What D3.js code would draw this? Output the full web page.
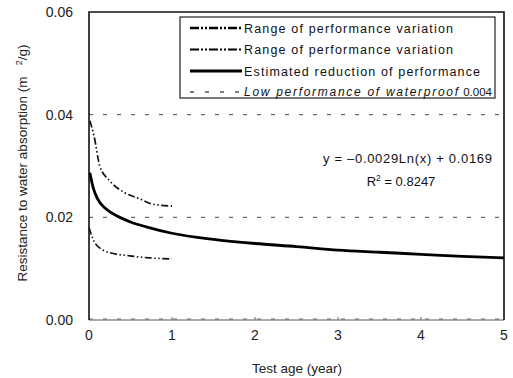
<!DOCTYPE html>
<html>
<head>
<meta charset="utf-8">
<script src="https://cdn.jsdelivr.net/npm/d3@7"></script>
<style>
  html, body { margin: 0; padding: 0; background: #fff; }
  svg { display: block; font-family: "Liberation Sans", Arial, sans-serif; }
</style>
</head>
<body>
<svg id="chart" width="513" height="378"></svg>
<script>
// ---- data ----
const xTicks = [0, 1, 2, 3, 4, 5];
const yTicks = [0.00, 0.02, 0.04, 0.06];
const yTickLabels = ["0.00", "0.02", "0.04", "0.06"];

const upperX = [0.01, 0.06, 0.13, 0.25, 0.43, 0.61, 0.76, 1.0];
const upperY = [0.0388, 0.0359, 0.0300, 0.0271, 0.0248, 0.0236, 0.0226, 0.0222];

const lowerX = [0.0, 0.08, 0.25, 0.49, 0.73, 1.0];
const lowerY = [0.0180, 0.0148, 0.0131, 0.0125, 0.0121, 0.0119];

const estX = [0.01, 0.05, 0.1, 0.2, 0.3, 0.5, 0.7, 1.0, 1.5, 2.0, 2.5, 3.0, 3.5, 4.0, 4.5, 5.0];
const estY = [0.0287, 0.0258, 0.0237, 0.0217, 0.0206, 0.0191, 0.0181, 0.0169, 0.0157, 0.0149, 0.0143, 0.0136, 0.0132, 0.0128, 0.0124, 0.0121];

const gridValues = [0.02, 0.04];
const legendLabels = [
  "Range of performance variation",
  "Range of performance variation",
  "Estimated reduction of performance",
  "Low performance of waterproof"
];
const lowLimitLabel = "0.004";
const equationText = "y = \u20130.0029Ln(x) + 0.0169";
const r2Value = "0.8247";

// ---- drawing ----
const svg = d3.select("#chart");
const x = d3.scaleLinear().domain([0, 5]).range([89, 504]);
const y = d3.scaleLinear().domain([0, 0.06]).range([320, 12]);

// gridlines (dashed)
svg.append("g").selectAll("line").data(gridValues).join("line")
  .attr("x1", x(0)).attr("x2", x(5))
  .attr("y1", d => y(d)).attr("y2", d => y(d))
  .attr("stroke", "#444").attr("stroke-width", 1)
  .attr("stroke-dasharray", "4,10");

// bottom axis line
svg.append("line")
  .attr("x1", x(0)).attr("x2", x(5)).attr("y1", y(0)).attr("y2", y(0))
  .attr("stroke", "#555").attr("stroke-width", 1.2);
svg.append("line")
  .attr("x1", x(0)).attr("x2", x(5)).attr("y1", y(0) - 1).attr("y2", y(0) - 1)
  .attr("stroke", "#666").attr("stroke-width", 1).attr("stroke-dasharray", "4,10");

// small tick marks on bottom
svg.append("g").selectAll("line").data(xTicks.slice(1, 5)).join("line")
  .attr("x1", d => x(d)).attr("x2", d => x(d))
  .attr("y1", y(0)).attr("y2", y(0) - 3)
  .attr("stroke", "#666").attr("stroke-width", 1);

// frame: left, top, right
svg.append("path")
  .attr("d", `M${x(0)},${y(0)} L${x(0)},${y(0.06)} L${x(5)},${y(0.06)} L${x(5)},${y(0)}`)
  .attr("fill", "none").attr("stroke", "#111").attr("stroke-width", 1.6);

// y tick labels
svg.append("g").selectAll("text").data(yTicks).join("text")
  .attr("x", 73).attr("y", d => y(d))
  .attr("dy", "0.36em")
  .attr("text-anchor", "end")
  .attr("font-size", 14).attr("fill", "#222")
  .text((d, i) => yTickLabels[i]);

// x tick labels
svg.append("g").selectAll("text").data(xTicks).join("text")
  .attr("x", d => x(d)).attr("y", 340)
  .attr("text-anchor", "middle")
  .attr("font-size", 14).attr("fill", "#222")
  .text(d => d);

// axis titles
svg.append("text")
  .attr("x", 297).attr("y", 373)
  .attr("text-anchor", "middle")
  .attr("font-size", 13.5).attr("fill", "#222")
  .text("Test age (year)");

const yt = svg.append("text")
  .attr("transform", "translate(27,163) rotate(-90)")
  .attr("text-anchor", "middle")
  .attr("font-size", 13.5).attr("fill", "#222");
yt.append("tspan").text("Resistance to water absorption (m\u00a0\u00a0\u00a0");
yt.append("tspan").attr("dy", -5).attr("font-size", 9).text("2");
yt.append("tspan").attr("dy", 5).text("/g)");

// series lines
const line = d3.line().x(d => x(d[0])).y(d => y(d[1])).curve(d3.curveMonotoneX);
const dashDot = "7,2.5,1.5,2.5,1.5,2.5";

svg.append("path")
  .datum(upperX.map((v, i) => [v, upperY[i]]))
  .attr("d", line).attr("fill", "none")
  .attr("stroke", "#111").attr("stroke-width", 1.7)
  .attr("stroke-dasharray", dashDot);

svg.append("path")
  .datum(lowerX.map((v, i) => [v, lowerY[i]]))
  .attr("d", line).attr("fill", "none")
  .attr("stroke", "#111").attr("stroke-width", 1.6)
  .attr("stroke-dasharray", dashDot);

svg.append("path")
  .datum(estX.map((v, i) => [v, estY[i]]))
  .attr("d", line).attr("fill", "none")
  .attr("stroke", "#000").attr("stroke-width", 2.8);

// legend
const lg = svg.append("g");
lg.append("rect")
  .attr("x", 180).attr("y", 17).attr("width", 315).attr("height", 81)
  .attr("fill", "#fff").attr("stroke", "#222").attr("stroke-width", 1.2);

const rowY = [28, 49.5, 71, 92];
const sampleStyles = [
  { w: 2.6, dash: "9,2,2,2,2,2" },
  { w: 2.0, dash: "9,2,2,2,2,2" },
  { w: 3.0, dash: null },
  { w: 1.0, dash: "4,11" }
];
const textLens = [209, 209, 236, 214];

legendLabels.forEach((lab, i) => {
  const l = lg.append("line")
    .attr("x1", 190).attr("x2", 242)
    .attr("y1", rowY[i]).attr("y2", rowY[i])
    .attr("stroke", "#000").attr("stroke-width", sampleStyles[i].w);
  if (sampleStyles[i].dash) l.attr("stroke-dasharray", sampleStyles[i].dash);
  lg.append("text")
    .attr("x", 244).attr("y", rowY[i]).attr("dy", "0.36em")
    .attr("font-size", i === 3 ? 12 : 12.5).attr("fill", "#111")
    .attr("font-style", i === 3 ? "italic" : "normal")
    .attr("textLength", textLens[i]).attr("lengthAdjust", "spacing")
    .text(lab);
});
lg.append("text")
  .attr("x", 492).attr("y", rowY[3]).attr("dy", "0.36em")
  .attr("text-anchor", "end")
  .attr("font-size", 11.5).attr("fill", "#111")
  .text(lowLimitLabel);

// regression annotation
svg.append("text")
  .attr("x", 492).attr("y", 158).attr("dy", "0.36em")
  .attr("text-anchor", "end")
  .attr("font-size", 13).attr("fill", "#111")
  .attr("textLength", 169).attr("lengthAdjust", "spacing")
  .text(equationText);

const r2 = svg.append("text")
  .attr("x", 401).attr("y", 181).attr("dy", "0.36em")
  .attr("text-anchor", "middle")
  .attr("font-size", 13).attr("fill", "#111");
r2.append("tspan").text("R");
r2.append("tspan").attr("dy", -5).attr("font-size", 8.5).text("2");
r2.append("tspan").attr("dy", 5).text(" = " + r2Value);
</script>
</body>
</html>
